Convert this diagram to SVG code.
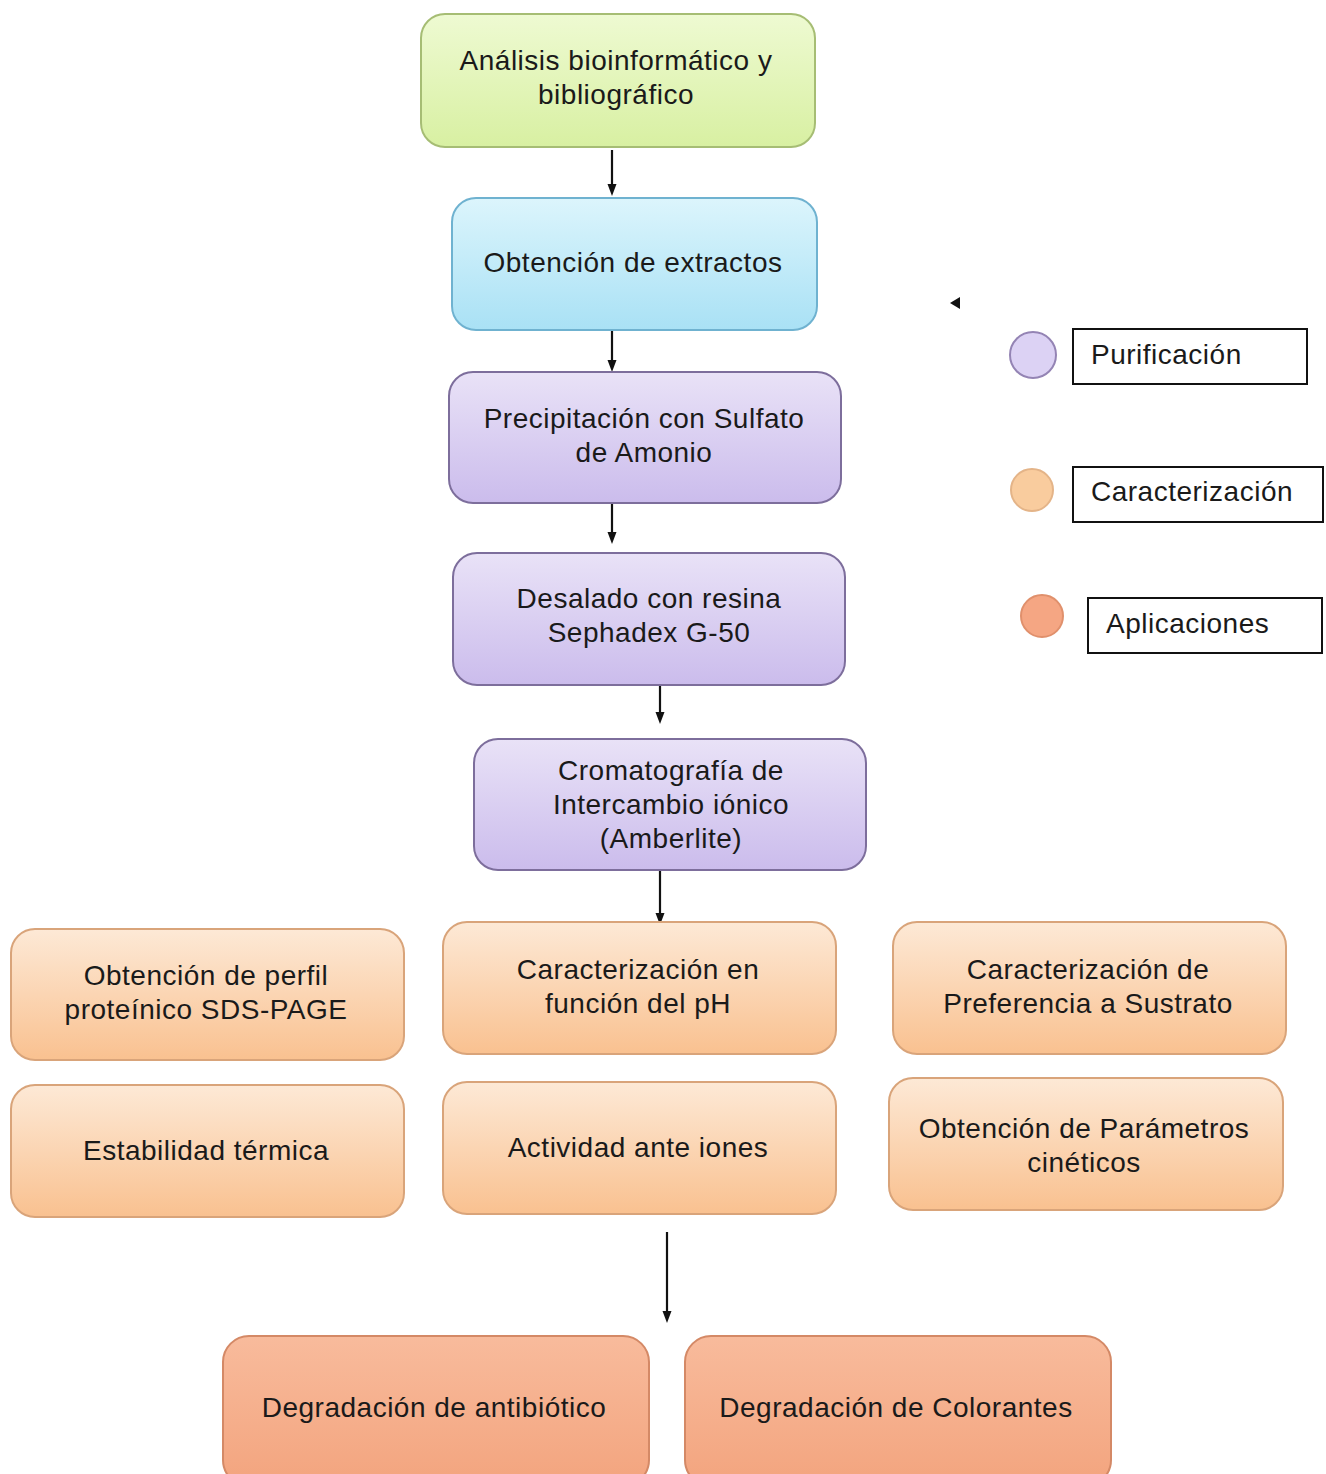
<svg xmlns="http://www.w3.org/2000/svg" width="1326" height="1474" viewBox="0 0 1326 1474">
<style>
  text { font-family: "Liberation Sans", Arial, sans-serif; font-size: 28px; fill: #1a1a1a; letter-spacing: 0.5px; }
  .c { text-anchor: middle; }
  .box { stroke-width: 2; }
  .green { fill: url(#gGreen); stroke: #a6bd74; }
  .blue { fill: url(#gBlue); stroke: #6fb2d0; }
  .purple { fill: url(#gPurple); stroke: #7d6e9c; }
  .orange { fill: url(#gOrange); stroke: #d9a47a; }
  .salmon { fill: url(#gSalmon); stroke: #d48966; }
  .conn line { stroke: #111; stroke-width: 2.2; marker-end: url(#arr); }
  .leg { fill: #fff; stroke: #111; stroke-width: 2; }
</style>
<defs>
  <linearGradient id="gGreen" x1="0" y1="0" x2="0" y2="1">
    <stop offset="0" stop-color="#eefad2"/>
    <stop offset="1" stop-color="#d8f0a2"/>
  </linearGradient>
  <linearGradient id="gBlue" x1="0" y1="0" x2="0" y2="1">
    <stop offset="0" stop-color="#dcf5fc"/>
    <stop offset="1" stop-color="#a9e1f5"/>
  </linearGradient>
  <linearGradient id="gPurple" x1="0" y1="0" x2="0" y2="1">
    <stop offset="0" stop-color="#e9e2f7"/>
    <stop offset="1" stop-color="#cbbcec"/>
  </linearGradient>
  <linearGradient id="gOrange" x1="0" y1="0" x2="0" y2="1">
    <stop offset="0" stop-color="#fde9d6"/>
    <stop offset="1" stop-color="#f9c190"/>
  </linearGradient>
  <linearGradient id="gSalmon" x1="0" y1="0" x2="0" y2="1">
    <stop offset="0" stop-color="#f8bb9c"/>
    <stop offset="1" stop-color="#f3a47e"/>
  </linearGradient>
  <marker id="arr" markerWidth="12" markerHeight="12" refX="7" refY="6" orient="auto" markerUnits="userSpaceOnUse">
    <path d="M0,1.5 L12,6 L0,10.5 Z" fill="#111"/>
  </marker>
</defs>

<g id="connectors" class="conn">
  <line x1="612" y1="150" x2="612" y2="191"/>
  <line x1="612" y1="331" x2="612" y2="367"/>
  <line x1="612" y1="504" x2="612" y2="539"/>
  <line x1="660" y1="686" x2="660" y2="719"/>
  <line x1="660" y1="871" x2="660" y2="920"/>
  <line x1="667" y1="1232" x2="667" y2="1318"/>
</g>

<g id="n1"><rect class="box green" x="421" y="14" width="394" height="133" rx="24"/>
  <text class="c" x="616" y="70">Análisis bioinformático y</text>
  <text class="c" x="616" y="104">bibliográfico</text></g>

<g id="n2"><rect class="box blue" x="452" y="198" width="365" height="132" rx="24"/>
  <text class="c" x="633" y="272">Obtención de extractos</text></g>

<g id="n3"><rect class="box purple" x="449" y="372" width="392" height="131" rx="24"/>
  <text class="c" x="644" y="428">Precipitación con Sulfato</text>
  <text class="c" x="644" y="462">de Amonio</text></g>

<g id="n4"><rect class="box purple" x="453" y="553" width="392" height="132" rx="24"/>
  <text class="c" x="649" y="608">Desalado con resina</text>
  <text class="c" x="649" y="642">Sephadex G-50</text></g>

<g id="n5"><rect class="box purple" x="474" y="739" width="392" height="131" rx="24"/>
  <text class="c" x="671" y="780">Cromatografía de</text>
  <text class="c" x="671" y="814">Intercambio iónico</text>
  <text class="c" x="671" y="848">(Amberlite)</text></g>

<g id="n6"><rect class="box orange" x="11" y="929" width="393" height="131" rx="24"/>
  <text class="c" x="206" y="985">Obtención de perfil</text>
  <text class="c" x="206" y="1019">proteínico SDS-PAGE</text></g>

<g id="n7"><rect class="box orange" x="443" y="922" width="393" height="132" rx="24"/>
  <text class="c" x="638" y="979">Caracterización en</text>
  <text class="c" x="638" y="1013">función del pH</text></g>

<g id="n8"><rect class="box orange" x="893" y="922" width="393" height="132" rx="24"/>
  <text class="c" x="1088" y="979">Caracterización de</text>
  <text class="c" x="1088" y="1013">Preferencia a Sustrato</text></g>

<g id="n9"><rect class="box orange" x="11" y="1085" width="393" height="132" rx="24"/>
  <text class="c" x="206" y="1160">Estabilidad térmica</text></g>

<g id="n10"><rect class="box orange" x="443" y="1082" width="393" height="132" rx="24"/>
  <text class="c" x="638" y="1157">Actividad ante iones</text></g>

<g id="n11"><rect class="box orange" x="889" y="1078" width="394" height="132" rx="24"/>
  <text class="c" x="1084" y="1138">Obtención de Parámetros</text>
  <text class="c" x="1084" y="1172">cinéticos</text></g>

<g id="n12"><rect class="box salmon" x="223" y="1336" width="426" height="150" rx="26"/>
  <text class="c" x="434" y="1417">Degradación de antibiótico</text></g>

<g id="n13"><rect class="box salmon" x="685" y="1336" width="426" height="150" rx="26"/>
  <text class="c" x="896" y="1417">Degradación de Colorantes</text></g>

<g id="legend">
  <polygon points="950,303 960,297 960,309" fill="#111"/>
  <circle cx="1033" cy="355" r="23" fill="#dcd2f4" stroke="#9484b4" stroke-width="2"/>
  <rect class="leg" x="1073" y="329" width="234" height="55"/>
  <text x="1091" y="364">Purificación</text>
  <circle cx="1032" cy="490" r="21" fill="#f9cc9e" stroke="#e4b488" stroke-width="2"/>
  <rect class="leg" x="1073" y="467" width="250" height="55"/>
  <text x="1091" y="501">Caracterización</text>
  <circle cx="1042" cy="616" r="21" fill="#f5a683" stroke="#e0906c" stroke-width="2"/>
  <rect class="leg" x="1088" y="598" width="234" height="55"/>
  <text x="1106" y="633">Aplicaciones</text>
</g>
</svg>
